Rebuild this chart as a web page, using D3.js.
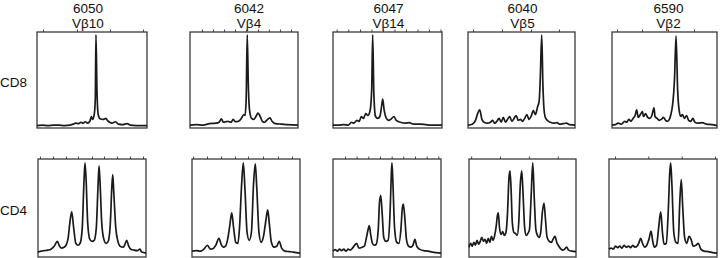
<!DOCTYPE html>
<html>
<head>
<meta charset="utf-8">
<script src="https://cdn.jsdelivr.net/npm/d3@7"></script>
<style>
  html, body { margin: 0; padding: 0; background: #fff; }
  svg { display: block; font-family: "Liberation Sans", Arial, sans-serif; }
</style>
</head>
<body>
<svg id="chart" width="720" height="258"></svg>
<script>
// Spectratype profiles: CD8 (top row) and CD4 (bottom row) for five donors.
// Each trace is [position %, signal %].

const donors = ["6050", "6042", "6047", "6040", "6590"];
const vbeta  = ["Vβ10", "Vβ4", "Vβ14", "Vβ5", "Vβ2"];
const rowNames = ["CD8", "CD4"];

const cd8_6050 = [[0,2.5],[5,3],[10,2.5],[15,3],[20,3],[25,2.5],[30,3],[33,4],[35,5],[38,4.5],[40,6],[42,5],[44,6.5],[46,5],[48,7],[49.5,12],[50.5,9],[52,14],[53,30],[53.6,97],[54.5,40],[55.5,15],[57,10],[60,9],[62.5,10],[64,8],[66,6],[68,5],[71.5,6.5],[74,4],[78,3.5],[82,4.5],[85,3],[90,2.5],[100,2.5]];
const cd8_6042 = [[0,3],[6,3.5],[12,3],[18,4.5],[24,5],[27,6],[29,9.5],[31,6],[35,7],[38,6],[40,9],[42,6.5],[45,7],[47,9],[48.5,12],[50,14],[51,13],[52,30],[53,97],[54,45],[55,20],[57,10],[59,9],[61,12],[63,15.5],[65,12],[67,7],[69,6],[71,8],[74,10.5],[76,7],[79,4.5],[85,4],[90,3.5],[100,3]];
const cd8_6047 = [[0,3],[5,3],[10,3.5],[14,3],[17,6],[19,5],[22,8],[24,7],[26,12],[28,10],[30,15],[32,13],[34,18],[35.5,40],[36.4,97],[37.5,35],[39,12],[41,10],[43,12],[44.5,22],[45.6,30],[47,18],[49,10],[51,8],[53,9],[56,12],[58,8],[62,6],[66,5],[70,5.5],[74,4],[80,4],[85,3.5],[90,3],[100,3]];
const cd8_6040 = [[0,3],[4,4],[7,8],[9,15],[11,19],[13,9],[15,6],[18,5],[21,6],[23,8],[25,5],[27,7],[29,10],[31,6],[33,11],[35,6],[37,9],[39,12],[41,7],[43,10],[45,13],[47,8],[49,9],[51,7],[53,10],[55,14],[57,9],[59,12],[61,18],[63,14],[65,22],[66.5,28],[67.5,50],[68.9,97],[70,45],[71,20],[72,12],[74,8],[77,6],[80,5],[83,5.5],[86,4],[89,4.5],[92,5],[95,3.5],[100,3]];
const cd8_6590 = [[0,3],[3,3.5],[6,5],[9,4],[12,7],[14,6],[16,9],[18,7],[20,10],[22,13],[23.5,19],[25,11],[27,14],[29,17],[30,12],[32,15],[34,11],[36,10],[38,13],[40,21],[41,12],[43,10],[45,8],[47,9],[49,11],[51,8],[53,7],[55,10],[57,19],[58,27],[59.5,50],[61,96],[62.5,40],[64,18],[65.5,12],[67,14],[69,10],[71,13],[73,8],[75,7],[77,10],[79,6],[82,5],[86,5.5],[90,4],[95,3.5],[100,2.5]];

const cd4_6050 = [[0,5],[3,6],[6,6.5],[9,7],[12,8],[15,11],[17.9,16],[20,11],[22,9],[24,10],[26,12],[28,20],[29.5,35],[31.2,46],[33,30],[35,14],[37,12],[39,14],[41,30],[42.5,75],[43.5,96],[44.5,80],[46,35],[48,18],[50,16],[52,17],[54,30],[55.5,70],[56.5,93],[57.5,75],[59,35],[61,18],[63,14],[65,16],[67,35],[68.3,70],[69.2,84],[70.2,65],[72,30],[74,16],[76,11],[79,10],[80.5,13],[82.1,17],[84,11],[86,8],[89,7],[92,6.5],[94.4,8],[96,5],[100,4]];
const cd4_6042 = [[0,6],[4,6.5],[8,6],[11,8],[14.2,12],[17,8],[20,9],[22,12],[25,19],[27,13],[29,10],[31,11],[33,18],[35,32],[36.8,45],[38.5,30],[40.5,15],[42.5,14],[44,30],[46,75],[47.5,96],[49,70],[51,25],[53,17],[55,25],[57,75],[58.6,95],[60,70],[62,25],[64,15],[66,20],[68.5,38],[70.1,48],[71.5,35],[73.5,15],[76,10],[78.5,11],[80.8,16],[83,9],[86,6],[90,5.5],[94,5],[100,4]];
const cd4_6047 = [[0,6],[2,7.5],[4,6],[6,8],[8,6.5],[10,8],[12,6],[14,8],[16,7],[18,9],[20,12],[21.9,14],[24,9],[27,10],[29,11],[31,20],[32.5,28],[33.6,32],[35,22],[36.5,14],[38,12],[40,13],[42,30],[43,55],[44.2,63],[45.5,45],[47,20],[49,16],[51,17],[53,50],[54,85],[54.6,96],[55.5,75],[57,30],[59,15],[61,14],[63,30],[64.2,50],[65.1,54],[66.5,40],[68,18],[70,11],[72,10],[74,12],[75.9,18],[77.5,11],[80,8],[84,6.5],[88,6],[92,5],[100,4]];
const cd4_6040 = [[0,10],[1.5,14],[3,11],[4.5,15],[6,12],[7.5,17],[9,13],[10.5,16],[12,20],[13.5,16],[15,18],[16.5,14],[18,19],[19.5,15],[21,21],[22.5,17],[24,22],[25.5,32],[26.5,42],[27.4,45],[28.5,30],[30,23],[31.5,26],[33,22],[34.5,25],[36,45],[37.3,80],[38.3,88],[39.3,70],[40.5,35],[42,25],[43.5,24],[45,22],[46.5,35],[48,75],[49.3,88],[50.5,65],[52,30],[53.5,22],[55,24],[56.5,28],[58,60],[59.6,96],[61,60],[62.5,28],[64,22],[65.5,20],[67,25],[68.5,45],[70.1,55],[71.5,38],[73,20],[75,16],[77,15],[78.5,18],[80.4,21],[82,15],[84,11],[86,8],[88,7],[91.3,10],[93,7],[96,6],[100,5.5]];
const cd4_6590 = [[0,8],[2,9],[4,8],[6,11],[8,9.5],[10,11],[12,9],[14,12],[16,10],[18,11],[20,9.5],[22,12],[24,10],[26,11],[27.5,14],[29.4,19],[31,14],[33,10],[35,12],[37,18],[38.9,26.5],[40.5,16],[42,10],[44,12],[46,30],[47.9,46],[49.5,25],[51,13],[53,14],[55,50],[56.2,85],[57.1,96],[58.2,75],[60,25],[62,15],[64,14],[65.5,55],[66.9,79],[68.3,50],[70,20],[72,14],[74.1,21],[76,18],[78,11],[80.5,12],[82.7,14],[85,8],[88,6],[92,5.5],[96,4.5],[100,4]];

// top-edge tick marks, in position %
const cd8Ticks = [
  [5.5, 36.4, 66.4, 96.4],
  [11, 21.3, 31.5, 41.7, 51.9, 63, 73, 83.3, 93.5],
  [3.4, 14, 24.8, 35.3, 45.9, 56.4, 67, 77.5, 88, 98.6],
  [4.7, 31.8, 58.9, 85],
  [4.8, 28.6, 53.3, 78.1]
];
const cd4Ticks = [
  [1.8, 13.9, 25.9, 37, 50, 61.1, 73.1, 85.2, 97.2],
  [1, 13.9, 26.9, 39.8, 51.9, 65.7, 79.6, 92.6],
  [11.1, 21.9, 32.7, 43.5, 54.3, 65.1, 75.9, 86.7, 97.5],
  [2, 29, 56, 83],
  [5.6, 36.4, 67.3, 98.1]
];

const traces = [
  [cd8_6050, cd8_6042, cd8_6047, cd8_6040, cd8_6590],
  [cd4_6050, cd4_6042, cd4_6047, cd4_6040, cd4_6590]
];
const ticks = [cd8Ticks, cd4Ticks];

// layout (pixels)
const rowTop    = [32, 159];
const rowHeight = [96, 98];
const colLeft   = [[37, 190, 333, 468, 612], [38, 192, 333, 469, 609]];
const colWidth  = [[110, 108, 109, 107, 105], [108, 108, 108, 107, 108]];
const labelShift = [-4, 5, 1, 1, 4];

const svg = d3.select("#chart");

// column headers
donors.forEach((d, i) => {
  const cx = colLeft[0][i] + colWidth[0][i] / 2 + labelShift[i];
  svg.append("text")
    .attr("x", cx).attr("y", 13)
    .attr("text-anchor", "middle")
    .attr("font-size", "13.5px")
    .attr("fill", "#111")
    .text(d);
  svg.append("text")
    .attr("x", cx).attr("y", 28)
    .attr("text-anchor", "middle")
    .attr("font-size", "13.5px")
    .attr("fill", "#111")
    .text(vbeta[i]);
});

// row labels
rowNames.forEach((r, j) => {
  svg.append("text")
    .attr("x", 0).attr("y", rowTop[j] + rowHeight[j] * 0.5 + 7)
    .attr("font-size", "13.5px")
    .attr("fill", "#111")
    .text(r);
});

rowNames.forEach((r, j) => {
  donors.forEach((d, i) => {
    const x0 = colLeft[j][i], w = colWidth[j][i];
    const y0 = rowTop[j], h = rowHeight[j];

    const x = d3.scaleLinear().domain([0, 100]).range([x0, x0 + w]);
    const y = d3.scaleLinear().domain([0, 100]).range([y0 + h, y0]);

    const g = svg.append("g");

    // ticks on top edge, pointing up
    g.append("g")
      .attr("transform", `translate(0,${y0})`)
      .call(d3.axisTop(x).tickValues(ticks[j][i]).tickSize(2.5).tickFormat(""))
      .call(a => a.select(".domain").remove())
      .selectAll("line")
      .attr("stroke", "#444")
      .attr("stroke-width", 1);

    // frame
    g.append("rect")
      .attr("x", x0).attr("y", y0)
      .attr("width", w).attr("height", h)
      .attr("fill", "none")
      .attr("stroke", "#3a3a3a")
      .attr("stroke-width", 1.3);

    // trace
    const line = d3.line()
      .x(p => x(p[0]))
      .y(p => y(p[1]))
      .curve(d3.curveMonotoneX);

    g.append("path")
      .datum(traces[j][i])
      .attr("d", line)
      .attr("fill", "none")
      .attr("stroke", "#1a1a1a")
      .attr("stroke-width", 1.7)
      .attr("stroke-linejoin", "round");
  });
});
</script>
</body>
</html>
